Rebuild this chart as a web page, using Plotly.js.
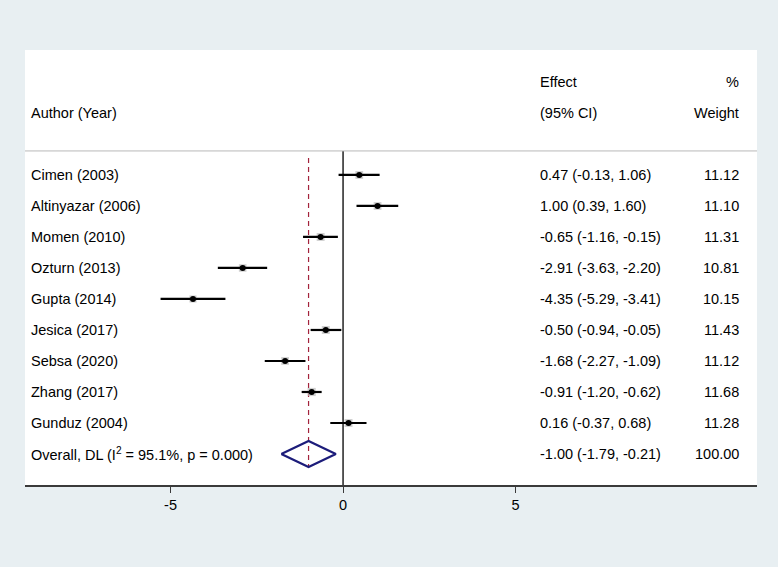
<!DOCTYPE html>
<html>
<head>
<meta charset="utf-8">
<script src="https://cdn.plot.ly/plotly-3.0.1.min.js"></script>
<style>html,body{margin:0;padding:0;background:#e8eff2;}</style>
</head>
<body>
<div id="chart" style="width:778px;height:567px;"></div>
<script>
const studies = ["Cimen (2003)", "Altinyazar (2006)", "Momen (2010)", "Ozturn (2013)", "Gupta (2014)", "Jesica (2017)", "Sebsa (2020)", "Zhang (2017)", "Gunduz (2004)"];
const effect = [0.47, 1.00, -0.65, -2.91, -4.35, -0.50, -1.68, -0.91, 0.16];
const lower  = [-0.13, 0.39, -1.16, -3.63, -5.29, -0.94, -2.27, -1.20, -0.37];
const upper  = [1.06, 1.60, -0.15, -2.20, -3.41, -0.05, -1.09, -0.62, 0.68];
const weight = [11.12, 11.10, 11.31, 10.81, 10.15, 11.43, 11.12, 11.68, 11.28];
const overallLabel = "Overall, DL (I<sup>2</sup> = 95.1%, p = 0.000)";
const overallEffect = -1.00, overallLower = -1.79, overallUpper = -0.21, overallWeight = 100.00;
const tickVals = [-5, 0, 5];
const tickText = ["-5", "0", "5"];

const FONT = "Liberation Sans, Arial, Helvetica, sans-serif";
const FS = 14.5;
const rows = studies.map((_, i) => i + 1);
const overallRow = studies.length + 1;

// CI lines
const ciX = [], ciY = [];
studies.forEach((_, i) => { ciX.push(lower[i], upper[i], null); ciY.push(rows[i], rows[i], null); });

const fmt = v => v.toFixed(2);
const ciText = studies.map((_, i) => `${fmt(effect[i])} (${fmt(lower[i])}, ${fmt(upper[i])})`);
ciText.push(`${fmt(overallEffect)} (${fmt(overallLower)}, ${fmt(overallUpper)})`);
const wText = weight.map(fmt); wText.push(fmt(overallWeight));
const labels = studies.concat([overallLabel]);
const allRows = rows.concat([overallRow]);

const xLabel = -9.10, xEffect = 5.64, xWeight = 11.55;
const yTop = -3.03, yBottom = 11.0, ySep = 0.226;

const traces = [
  { // zero line
    x: [0, 0], y: [ySep, yBottom], mode: 'lines',
    line: {color: '#000', width: 1.3}, hoverinfo: 'skip', showlegend: false
  },
  { // overall dashed line
    x: [overallEffect, overallEffect], y: [0.45, 10.42], mode: 'lines',
    line: {color: '#a3233c', width: 1.2, dash: '5px,4px'}, hoverinfo: 'skip', showlegend: false
  },
  { // weight boxes
    x: effect, y: rows, mode: 'markers', type: 'scatter',
    marker: {symbol: 'square', size: weight.map(w => w * 0.7), color: '#bcbcbc', line: {width: 0}},
    hoverinfo: 'skip', showlegend: false
  },
  { // CI lines
    x: ciX, y: ciY, mode: 'lines', line: {color: '#000', width: 2.2},
    hoverinfo: 'skip', showlegend: false
  },
  { // point estimates
    x: effect, y: rows, mode: 'markers',
    marker: {symbol: 'circle', size: 6, color: '#000'}, showlegend: false
  },
  { // overall diamond
    x: [overallLower, overallEffect, overallUpper, overallEffect, overallLower],
    y: [overallRow, overallRow - 0.42, overallRow, overallRow + 0.42, overallRow],
    mode: 'lines', line: {color: '#1c1c7a', width: 2.2}, showlegend: false, hoverinfo: 'skip'
  }
];

const annotations = [];
const txt = (x, y, text, anchor) => annotations.push({
  x: x, y: y, xref: 'x', yref: 'y', text: text, showarrow: false,
  xanchor: anchor, yanchor: 'middle', font: {family: FONT, size: FS, color: '#000'}
});
txt(xLabel, -1, "Author (Year)", 'left');
txt(xEffect, -2, "Effect", 'left');
txt(xEffect, -1, "(95% CI)", 'left');
txt(xWeight, -2, "%", 'right');
txt(xWeight, -1, "Weight", 'right');
allRows.forEach((r, i) => {
  txt(xLabel, r, labels[i], 'left');
  txt(xEffect, r, ciText[i], 'left');
  txt(xWeight, r, wText[i], 'right');
});

const layout = {
  width: 778, height: 567,
  paper_bgcolor: '#e8eff2', plot_bgcolor: '#ffffff',
  margin: {l: 25, r: 21, t: 50, b: 82},
  font: {family: FONT, size: FS, color: '#000'},
  xaxis: {
    range: [-9.22, 12.0], showgrid: false, zeroline: false,
    showline: true, linecolor: '#3a3a3a', linewidth: 1.5,
    ticks: 'outside', ticklen: 6, tickwidth: 1, tickcolor: '#3a3a3a',
    tickvals: tickVals, ticktext: tickText,
    tickfont: {family: FONT, size: FS, color: '#000'}, fixedrange: true
  },
  yaxis: {
    range: [yBottom, yTop], showgrid: false, zeroline: false,
    showticklabels: false, showline: false, ticks: '', fixedrange: true
  },
  shapes: [{
    type: 'line', xref: 'paper', yref: 'y', x0: 0, x1: 1, y0: ySep, y1: ySep,
    line: {color: '#b8b8b8', width: 1}
  }],
  annotations: annotations,
  showlegend: false
};

Plotly.newPlot('chart', traces, layout, {displayModeBar: false, staticPlot: true});
</script>
</body>
</html>
